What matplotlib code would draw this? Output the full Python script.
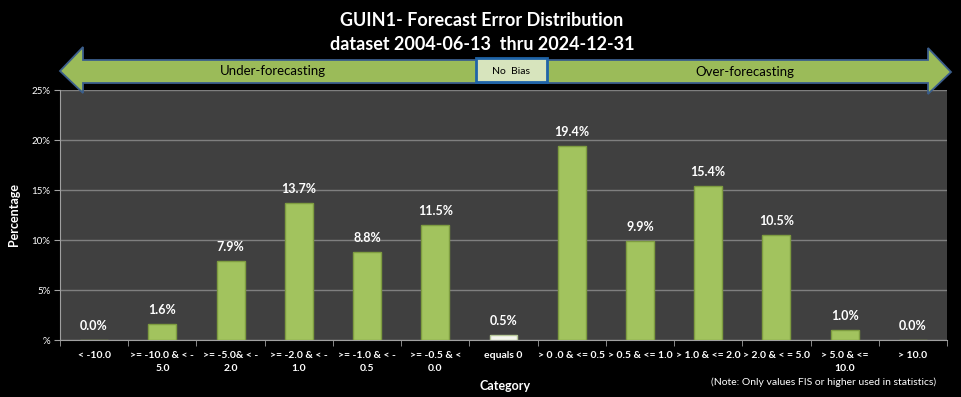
import matplotlib.pyplot as plt
import numpy as np
from matplotlib.patches import Polygon, Rectangle

plt.rcParams['font.family'] = ['Lato', 'DejaVu Sans']

categories = ['< -10.0', '>= -10.0 & < -\n5.0', '>= -5.0& < -\n2.0', '>= -2.0 & < -\n1.0',
              '>= -1.0 & < -\n0.5', '>= -0.5 & <\n0.0', 'equals 0', '> 0 .0 & <= 0.5',
              '> 0.5 & <= 1.0', '> 1.0 & <= 2.0', '> 2.0 & < = 5.0', '> 5.0 & <=\n10.0', '> 10.0']
values = [0.0, 1.6, 7.9, 13.7, 8.8, 11.5, 0.5, 19.4, 9.9, 15.4, 10.5, 1.0, 0.0]
yticks = [0, 5, 10, 15, 20, 25]
yticklabels = ['%', '5%', '10%', '15%', '20%', '25%']

W, H = 961, 397
fig = plt.figure(figsize=(W / 100, H / 100), dpi=100, facecolor='black')

def px(x, y):
    return (x / W, 1 - y / H)

ax = fig.add_axes([60 / W, 57 / H, 887 / W, 250 / H])
ax.set_facecolor('#404040')

x = np.arange(len(values))
colors = ['#A2C35E'] * len(values)
edges = ['#7E9C40'] * len(values)
colors[6] = '#F4F6EE'
edges[6] = '#B8C99A'
ax.bar(x, values, width=0.41, color=colors, edgecolor=edges, linewidth=1, zorder=3)
for xi, v in zip(x, values):
    ax.text(xi, v + 0.8, f'{v:.1f}%', ha='center', va='bottom', color='white',
            fontsize=9, fontweight='bold', zorder=4)

ax.set_xlim(-0.5, len(values) - 0.5)
ax.set_ylim(0, 25)
ax.set_yticks(yticks)
ax.set_yticklabels(yticklabels, color='white', fontsize=7)
ax.yaxis.grid(True, color='#7f7f7f', linewidth=1)
ax.set_axisbelow(True)
ax.set_xticks(x)
ax.set_xticklabels(categories, color='white', fontsize=7.5, fontweight='bold', linespacing=1.6)
ax.set_xticks(np.arange(len(values) + 1) - 0.5, minor=True)
ax.tick_params(axis='x', which='major', length=0, pad=8)
ax.tick_params(axis='x', which='minor', length=4, color='#a0a0a0')
ax.tick_params(axis='y', length=4, color='#a0a0a0', pad=3)
for s in ['top', 'right']:
    ax.spines[s].set_visible(False)
for s in ['left', 'bottom']:
    ax.spines[s].set_color('#a0a0a0')

ax.set_ylabel('Percentage', color='white', fontsize=9, fontweight='bold', labelpad=8)
fig.text(*px(505, 386), 'Category', color='white', fontsize=9, fontweight='bold',
         ha='center', va='center')
fig.text(*px(824, 382), '(Note: Only values FIS or higher used in statistics)', color='white',
         fontsize=7.5, ha='center', va='center')

fig.text(*px(482, 20), 'GUIN1- Forecast Error Distribution', color='white', fontsize=13,
         fontweight='bold', ha='center', va='center')
fig.text(*px(482, 45), 'dataset 2004-06-13  thru 2024-12-31', color='white', fontsize=13,
         fontweight='bold', ha='center', va='center')

arrow_pts = [(60, 71), (83, 47), (83, 60), (928, 60), (928, 48), (951, 72),
             (928, 94), (928, 83), (83, 83), (83, 93)]
fig.patches.append(Polygon([px(*p) for p in arrow_pts], closed=True, transform=fig.transFigure,
                           facecolor='#9BBB59', edgecolor='#3B5E8C', linewidth=1.3, zorder=5))
fig.patches.append(Rectangle(px(476, 82), 71 / W, 24 / H, transform=fig.transFigure,
                             facecolor='#D7E4BD', edgecolor='#1F64A8', linewidth=2, zorder=6))
fig.text(*px(273, 71), 'Under-forecasting', color='black', fontsize=9.5, ha='center',
         va='center', zorder=7)
fig.text(*px(511, 71), 'No  Bias', color='black', fontsize=7.5, ha='center', va='center',
         zorder=7)
fig.text(*px(745, 72), 'Over-forecasting', color='black', fontsize=9.5, ha='center',
         va='center', zorder=7)

fig.savefig('out.png', dpi=100, facecolor='black')
